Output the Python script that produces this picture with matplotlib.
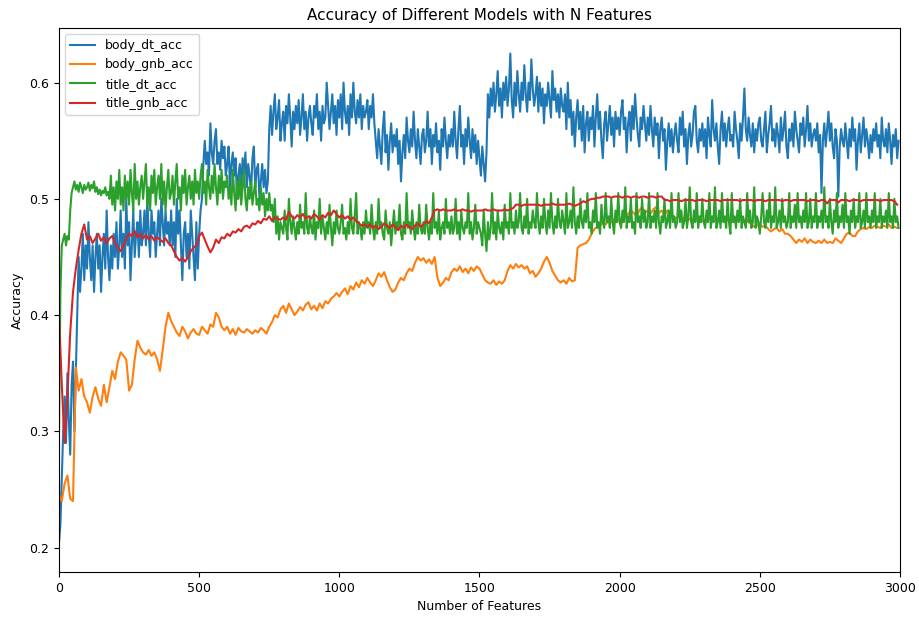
import numpy as np
import matplotlib
matplotlib.use("Agg")
import matplotlib.pyplot as plt

# decision-tree runs sampled every 5 features, naive bayes every 10
dt_features = np.arange(0, 3000, 5)
gnb_features = np.arange(0, 3000, 10)

body_dt_acc = [
    0.204, 0.22, 0.26, 0.30, 0.33, 0.29, 0.35, 0.31, 0.28, 0.34, 0.36, 0.30, 0.35, 0.40, 0.45, 0.42, 0.44, 0.47, 0.43, 0.46,
    0.44, 0.48, 0.45, 0.43, 0.46, 0.42, 0.45, 0.47, 0.44, 0.46, 0.42, 0.45, 0.47, 0.44, 0.49, 0.45, 0.43, 0.46, 0.44, 0.47,
    0.45, 0.48, 0.44, 0.46, 0.49, 0.45, 0.47, 0.44, 0.50, 0.46, 0.48, 0.43, 0.46, 0.49, 0.45, 0.47, 0.48, 0.45, 0.49, 0.46,
    0.47, 0.49, 0.46, 0.50, 0.47, 0.45, 0.49, 0.47, 0.48, 0.45, 0.47, 0.49, 0.46, 0.50, 0.48, 0.46, 0.49, 0.47, 0.48, 0.46,
    0.49, 0.46, 0.48, 0.45, 0.50, 0.47, 0.49, 0.46, 0.43, 0.47, 0.48, 0.45, 0.47, 0.44, 0.49, 0.47, 0.45, 0.43, 0.48, 0.44,
    0.47, 0.49, 0.50, 0.53, 0.55, 0.53, 0.54, 0.52, 0.565, 0.54, 0.53, 0.55, 0.56, 0.53, 0.54, 0.525, 0.55, 0.535, 0.545, 0.52,
    0.53, 0.545, 0.51, 0.53, 0.54, 0.52, 0.535, 0.50, 0.52, 0.53, 0.51, 0.535, 0.52, 0.54, 0.51, 0.53, 0.52, 0.505, 0.535, 0.545,
    0.51, 0.525, 0.53, 0.50, 0.515, 0.53, 0.51, 0.525, 0.505, 0.515, 0.56, 0.58, 0.555, 0.575, 0.59, 0.56, 0.57, 0.585, 0.55, 0.565,
    0.575, 0.55, 0.58, 0.565, 0.59, 0.57, 0.545, 0.575, 0.56, 0.58, 0.565, 0.585, 0.555, 0.57, 0.59, 0.56, 0.575, 0.55, 0.57, 0.58,
    0.565, 0.555, 0.58, 0.57, 0.59, 0.56, 0.575, 0.55, 0.58, 0.565, 0.57, 0.60, 0.58, 0.56, 0.575, 0.59, 0.565, 0.58, 0.555, 0.585,
    0.57, 0.59, 0.56, 0.60, 0.575, 0.565, 0.58, 0.555, 0.59, 0.57, 0.60, 0.575, 0.565, 0.585, 0.57, 0.59, 0.56, 0.58, 0.57, 0.575,
    0.585, 0.56, 0.58, 0.57, 0.59, 0.565, 0.55, 0.535, 0.56, 0.545, 0.53, 0.56, 0.575, 0.54, 0.555, 0.525, 0.55, 0.565, 0.54, 0.555,
    0.545, 0.56, 0.53, 0.55, 0.515, 0.54, 0.555, 0.535, 0.57, 0.55, 0.54, 0.56, 0.545, 0.575, 0.55, 0.535, 0.56, 0.545, 0.53, 0.555,
    0.56, 0.54, 0.55, 0.575, 0.545, 0.56, 0.53, 0.555, 0.545, 0.565, 0.54, 0.55, 0.525, 0.56, 0.545, 0.57, 0.55, 0.535, 0.555, 0.545,
    0.56, 0.545, 0.575, 0.55, 0.535, 0.56, 0.58, 0.545, 0.555, 0.53, 0.56, 0.545, 0.57, 0.55, 0.535, 0.56, 0.54, 0.555, 0.53, 0.55,
    0.535, 0.52, 0.545, 0.53, 0.515, 0.54, 0.59, 0.57, 0.595, 0.58, 0.60, 0.575, 0.59, 0.61, 0.58, 0.595, 0.57, 0.60, 0.585, 0.605,
    0.58, 0.595, 0.625, 0.585, 0.57, 0.60, 0.58, 0.61, 0.59, 0.575, 0.60, 0.585, 0.615, 0.59, 0.575, 0.60, 0.585, 0.62, 0.595, 0.58,
    0.59, 0.605, 0.575, 0.60, 0.58, 0.595, 0.565, 0.59, 0.58, 0.60, 0.585, 0.57, 0.61, 0.585, 0.595, 0.575, 0.59, 0.57, 0.595, 0.58,
    0.575, 0.59, 0.56, 0.60, 0.57, 0.585, 0.555, 0.575, 0.545, 0.57, 0.585, 0.56, 0.575, 0.55, 0.58, 0.54, 0.565, 0.575, 0.55, 0.57,
    0.56, 0.58, 0.545, 0.57, 0.59, 0.56, 0.575, 0.55, 0.535, 0.565, 0.575, 0.55, 0.565, 0.58, 0.555, 0.57, 0.545, 0.575, 0.56, 0.57,
    0.555, 0.575, 0.585, 0.56, 0.57, 0.54, 0.565, 0.575, 0.55, 0.58, 0.56, 0.59, 0.57, 0.555, 0.545, 0.57, 0.56, 0.58, 0.565, 0.55,
    0.57, 0.555, 0.58, 0.56, 0.545, 0.57, 0.555, 0.565, 0.535, 0.56, 0.57, 0.55, 0.56, 0.525, 0.55, 0.565, 0.545, 0.56, 0.54, 0.555,
    0.565, 0.55, 0.54, 0.57, 0.555, 0.575, 0.545, 0.56, 0.53, 0.555, 0.565, 0.545, 0.555, 0.575, 0.58, 0.55, 0.54, 0.56, 0.55, 0.565,
    0.545, 0.56, 0.535, 0.57, 0.555, 0.545, 0.585, 0.56, 0.55, 0.565, 0.545, 0.53, 0.56, 0.575, 0.55, 0.565, 0.545, 0.56, 0.57, 0.55,
    0.555, 0.545, 0.575, 0.56, 0.55, 0.535, 0.565, 0.55, 0.57, 0.595, 0.56, 0.55, 0.57, 0.555, 0.545, 0.565, 0.54, 0.56, 0.55, 0.565,
    0.57, 0.55, 0.545, 0.56, 0.575, 0.54, 0.555, 0.565, 0.58, 0.55, 0.56, 0.545, 0.565, 0.555, 0.54, 0.57, 0.55, 0.56, 0.575, 0.545,
    0.535, 0.56, 0.55, 0.565, 0.545, 0.575, 0.56, 0.55, 0.54, 0.565, 0.555, 0.57, 0.545, 0.56, 0.58, 0.55, 0.565, 0.545, 0.555, 0.56,
    0.55, 0.565, 0.54, 0.555, 0.505, 0.55, 0.565, 0.545, 0.56, 0.575, 0.55, 0.565, 0.545, 0.535, 0.56, 0.55, 0.502, 0.545, 0.56, 0.55,
    0.545, 0.565, 0.55, 0.535, 0.56, 0.545, 0.57, 0.55, 0.56, 0.525, 0.55, 0.565, 0.54, 0.555, 0.57, 0.545, 0.56, 0.55, 0.535, 0.555,
    0.54, 0.56, 0.55, 0.565, 0.545, 0.555, 0.535, 0.57, 0.55, 0.545, 0.56, 0.54, 0.565, 0.55, 0.53, 0.555, 0.545, 0.56, 0.535, 0.55,
]

title_dt_acc = [
    0.30, 0.42, 0.46, 0.465, 0.47, 0.46, 0.468, 0.465, 0.49, 0.505, 0.51, 0.515, 0.508, 0.512, 0.506, 0.514, 0.51, 0.505, 0.512, 0.508,
    0.51, 0.514, 0.507, 0.512, 0.509, 0.515, 0.506, 0.51, 0.504, 0.508, 0.503, 0.507, 0.505, 0.51, 0.503, 0.506, 0.50, 0.52, 0.495, 0.51,
    0.49, 0.515, 0.50, 0.525, 0.495, 0.51, 0.49, 0.52, 0.50, 0.515, 0.495, 0.525, 0.505, 0.49, 0.53, 0.50, 0.515, 0.495, 0.51, 0.52,
    0.50, 0.515, 0.53, 0.495, 0.51, 0.49, 0.52, 0.505, 0.525, 0.495, 0.51, 0.52, 0.50, 0.53, 0.495, 0.515, 0.49, 0.51, 0.525, 0.50,
    0.505, 0.52, 0.495, 0.515, 0.53, 0.50, 0.51, 0.49, 0.52, 0.505, 0.525, 0.495, 0.51, 0.52, 0.50, 0.515, 0.495, 0.525, 0.505, 0.515,
    0.50, 0.52, 0.53, 0.505, 0.515, 0.495, 0.525, 0.51, 0.50, 0.52, 0.505, 0.53, 0.51, 0.495, 0.52, 0.505, 0.525, 0.50, 0.515, 0.51,
    0.52, 0.50, 0.51, 0.495, 0.525, 0.505, 0.49, 0.515, 0.50, 0.52, 0.495, 0.51, 0.525, 0.50, 0.49, 0.51, 0.50, 0.515, 0.495, 0.505,
    0.515, 0.495, 0.50, 0.49, 0.51, 0.495, 0.505, 0.485, 0.50, 0.49, 0.505, 0.49, 0.495, 0.48, 0.50, 0.47, 0.485, 0.465, 0.48, 0.475,
    0.47, 0.49, 0.475, 0.465, 0.50, 0.48, 0.47, 0.485, 0.475, 0.465, 0.48, 0.47, 0.495, 0.475, 0.48, 0.47, 0.505, 0.475, 0.47, 0.485,
    0.475, 0.47, 0.49, 0.465, 0.48, 0.475, 0.50, 0.47, 0.485, 0.475, 0.465, 0.48, 0.47, 0.495, 0.475, 0.46, 0.48, 0.47, 0.49, 0.475,
    0.47, 0.48, 0.495, 0.47, 0.475, 0.465, 0.48, 0.47, 0.50, 0.475, 0.47, 0.485, 0.505, 0.47, 0.48, 0.475, 0.465, 0.48, 0.47, 0.49,
    0.475, 0.48, 0.47, 0.495, 0.475, 0.465, 0.48, 0.47, 0.50, 0.475, 0.48, 0.47, 0.465, 0.49, 0.475, 0.47, 0.48, 0.46, 0.475, 0.49,
    0.47, 0.48, 0.475, 0.495, 0.47, 0.465, 0.48, 0.47, 0.505, 0.475, 0.48, 0.47, 0.49, 0.475, 0.465, 0.48, 0.47, 0.495, 0.475, 0.47,
    0.48, 0.47, 0.495, 0.475, 0.465, 0.48, 0.47, 0.505, 0.475, 0.48, 0.47, 0.49, 0.465, 0.475, 0.48, 0.47, 0.50, 0.475, 0.48, 0.47,
    0.485, 0.47, 0.475, 0.50, 0.47, 0.48, 0.465, 0.49, 0.475, 0.47, 0.48, 0.475, 0.505, 0.47, 0.48, 0.465, 0.475, 0.495, 0.47, 0.48,
    0.475, 0.47, 0.46, 0.49, 0.47, 0.455, 0.48, 0.465, 0.475, 0.505, 0.47, 0.48, 0.465, 0.49, 0.475, 0.47, 0.48, 0.465, 0.495, 0.475,
    0.48, 0.47, 0.505, 0.475, 0.48, 0.47, 0.49, 0.475, 0.48, 0.505, 0.475, 0.47, 0.485, 0.475, 0.50, 0.47, 0.48, 0.475, 0.49, 0.48,
    0.475, 0.505, 0.48, 0.47, 0.485, 0.475, 0.50, 0.48, 0.47, 0.49, 0.475, 0.505, 0.48, 0.47, 0.485, 0.475, 0.50, 0.48, 0.475, 0.49,
    0.48, 0.47, 0.505, 0.475, 0.48, 0.49, 0.475, 0.51, 0.48, 0.47, 0.485, 0.475, 0.50, 0.48, 0.475, 0.49, 0.48, 0.505, 0.475, 0.48,
    0.47, 0.49, 0.48, 0.505, 0.475, 0.48, 0.47, 0.495, 0.48, 0.475, 0.505, 0.48, 0.485, 0.475, 0.50, 0.48, 0.47, 0.49, 0.48, 0.505,
    0.48, 0.475, 0.49, 0.48, 0.51, 0.475, 0.485, 0.48, 0.50, 0.475, 0.48, 0.47, 0.505, 0.48, 0.485, 0.475, 0.50, 0.48, 0.49, 0.475,
    0.48, 0.505, 0.475, 0.485, 0.48, 0.49, 0.475, 0.505, 0.48, 0.47, 0.485, 0.48, 0.50, 0.475, 0.48, 0.49, 0.475, 0.505, 0.48, 0.485,
    0.475, 0.48, 0.505, 0.48, 0.49, 0.475, 0.48, 0.50, 0.475, 0.485, 0.51, 0.48, 0.475, 0.49, 0.48, 0.505, 0.475, 0.485, 0.48, 0.50,
    0.48, 0.475, 0.49, 0.48, 0.505, 0.475, 0.485, 0.48, 0.51, 0.475, 0.48, 0.49, 0.475, 0.505, 0.48, 0.485, 0.475, 0.50, 0.48, 0.47,
    0.505, 0.48, 0.485, 0.475, 0.49, 0.48, 0.50, 0.475, 0.485, 0.48, 0.475, 0.505, 0.48, 0.49, 0.475, 0.48, 0.51, 0.475, 0.485, 0.48,
    0.47, 0.485, 0.505, 0.48, 0.475, 0.49, 0.48, 0.505, 0.475, 0.485, 0.48, 0.51, 0.475, 0.48, 0.49, 0.475, 0.50, 0.48, 0.485, 0.475,
    0.48, 0.505, 0.475, 0.485, 0.48, 0.495, 0.475, 0.505, 0.48, 0.485, 0.475, 0.49, 0.48, 0.505, 0.475, 0.48, 0.50, 0.475, 0.485, 0.48,
    0.505, 0.475, 0.485, 0.48, 0.49, 0.475, 0.51, 0.48, 0.485, 0.475, 0.50, 0.48, 0.47, 0.49, 0.48, 0.505, 0.475, 0.485, 0.48, 0.495,
    0.475, 0.505, 0.48, 0.485, 0.47, 0.49, 0.48, 0.50, 0.475, 0.485, 0.48, 0.505, 0.475, 0.48, 0.49, 0.475, 0.505, 0.48, 0.485, 0.475,
    0.49, 0.48, 0.505, 0.475, 0.485, 0.48, 0.50, 0.475, 0.485, 0.48, 0.49, 0.475, 0.505, 0.48, 0.485, 0.475, 0.50, 0.48, 0.485, 0.475,
]

body_gnb_acc = [
    0.245, 0.24, 0.255, 0.262, 0.242, 0.24, 0.355, 0.335, 0.345, 0.33,
    0.325, 0.316, 0.33, 0.338, 0.328, 0.322, 0.34, 0.325, 0.338, 0.352,
    0.345, 0.36, 0.368, 0.365, 0.362, 0.335, 0.34, 0.362, 0.378, 0.372,
    0.368, 0.366, 0.37, 0.365, 0.368, 0.362, 0.352, 0.37, 0.39, 0.402,
    0.395, 0.39, 0.385, 0.382, 0.39, 0.386, 0.38, 0.385, 0.388, 0.384,
    0.383, 0.39, 0.387, 0.384, 0.392, 0.39, 0.402, 0.398, 0.39, 0.387,
    0.39, 0.384, 0.388, 0.383, 0.389, 0.386, 0.385, 0.388, 0.386, 0.384,
    0.387, 0.385, 0.389, 0.387, 0.384, 0.39, 0.394, 0.40, 0.398, 0.405,
    0.408, 0.402, 0.41, 0.405, 0.40, 0.403, 0.407, 0.404, 0.409, 0.411,
    0.405, 0.408, 0.404, 0.41, 0.406, 0.412, 0.41, 0.414, 0.416, 0.419,
    0.416, 0.42, 0.423, 0.418, 0.425, 0.422, 0.428, 0.424, 0.43, 0.427,
    0.432, 0.428, 0.425, 0.43, 0.436, 0.433, 0.437, 0.43, 0.424, 0.42,
    0.422, 0.428, 0.432, 0.43, 0.436, 0.44, 0.438, 0.445, 0.45, 0.447,
    0.449, 0.445, 0.448, 0.444, 0.45, 0.432, 0.425, 0.428, 0.432, 0.43,
    0.437, 0.44, 0.438, 0.442, 0.437, 0.44, 0.436, 0.441, 0.438, 0.442,
    0.44, 0.435, 0.43, 0.428, 0.427, 0.43, 0.426, 0.429, 0.427, 0.43,
    0.438, 0.443, 0.44, 0.444, 0.441, 0.443, 0.44, 0.442, 0.436, 0.438,
    0.433, 0.436, 0.44, 0.446, 0.45, 0.445, 0.438, 0.434, 0.43, 0.428,
    0.43, 0.427, 0.432, 0.429, 0.43, 0.458, 0.46, 0.461, 0.462, 0.465,
    0.47, 0.474, 0.476, 0.477, 0.48, 0.478, 0.481, 0.48, 0.482, 0.48,
    0.483, 0.48, 0.485, 0.487, 0.49, 0.488, 0.485, 0.49, 0.493, 0.488,
    0.49, 0.487, 0.491, 0.493, 0.488, 0.49, 0.486, 0.49, 0.488, 0.485,
    0.483, 0.485, 0.482, 0.484, 0.48, 0.483, 0.481, 0.484, 0.482, 0.48,
    0.482, 0.48, 0.483, 0.481, 0.484, 0.482, 0.48, 0.483, 0.481, 0.482,
    0.48, 0.482, 0.481, 0.483, 0.48, 0.482, 0.48, 0.478, 0.476, 0.477,
    0.478, 0.476, 0.477, 0.474, 0.472, 0.474, 0.475, 0.472, 0.474, 0.47,
    0.47, 0.468, 0.465, 0.462, 0.465, 0.463, 0.466, 0.462, 0.465, 0.463,
    0.462, 0.464, 0.462, 0.465, 0.462, 0.463, 0.462, 0.466, 0.464, 0.462,
    0.466, 0.47, 0.471, 0.468, 0.468, 0.472, 0.474, 0.475, 0.474, 0.476,
    0.475, 0.477, 0.476, 0.475, 0.477, 0.476, 0.478, 0.475, 0.476, 0.475,
]

title_gnb_acc = [
    0.40, 0.34, 0.29, 0.33, 0.385, 0.42, 0.44, 0.456, 0.47, 0.478,
    0.465, 0.468, 0.462, 0.466, 0.47, 0.464, 0.467, 0.462, 0.466, 0.468,
    0.462, 0.458, 0.455, 0.46, 0.466, 0.47, 0.468, 0.472, 0.467, 0.47,
    0.466, 0.469, 0.465, 0.468, 0.464, 0.467, 0.465, 0.463, 0.466, 0.462,
    0.46, 0.455, 0.45, 0.447, 0.449, 0.446, 0.45, 0.455, 0.458, 0.46,
    0.468, 0.471, 0.465, 0.459, 0.454, 0.458, 0.465, 0.462, 0.467, 0.466,
    0.47, 0.468, 0.472, 0.471, 0.474, 0.472, 0.476, 0.477, 0.475, 0.479,
    0.478, 0.481, 0.479, 0.483, 0.482, 0.485, 0.481, 0.484, 0.483, 0.482,
    0.484, 0.482, 0.489, 0.485, 0.483, 0.486, 0.484, 0.487, 0.483, 0.485,
    0.483, 0.487, 0.485, 0.482, 0.486, 0.484, 0.488, 0.486, 0.49, 0.487,
    0.484, 0.486, 0.483, 0.485, 0.482, 0.484, 0.481, 0.479, 0.477, 0.478,
    0.476, 0.478, 0.475, 0.477, 0.474, 0.476, 0.479, 0.477, 0.475, 0.478,
    0.476, 0.473, 0.477, 0.475, 0.478, 0.476, 0.474, 0.477, 0.479, 0.476,
    0.478, 0.481, 0.479, 0.484, 0.49, 0.491, 0.49, 0.491, 0.49, 0.49,
    0.49, 0.491, 0.49, 0.49, 0.491, 0.49, 0.49, 0.489, 0.49, 0.49,
    0.49, 0.49, 0.491, 0.49, 0.49, 0.491, 0.49, 0.49, 0.49, 0.491,
    0.49, 0.491, 0.492, 0.495, 0.495, 0.494, 0.495, 0.495, 0.495, 0.495,
    0.495, 0.495, 0.494, 0.495, 0.495, 0.495, 0.496, 0.495, 0.495, 0.495,
    0.495, 0.495, 0.496, 0.495, 0.494, 0.495, 0.496, 0.498, 0.497, 0.499,
    0.50, 0.50, 0.501, 0.501, 0.502, 0.502, 0.502, 0.501, 0.502, 0.502,
    0.502, 0.501, 0.502, 0.502, 0.501, 0.502, 0.502, 0.501, 0.502, 0.502,
    0.501, 0.502, 0.502, 0.501, 0.502, 0.502, 0.499, 0.499, 0.498, 0.499,
    0.499, 0.499, 0.498, 0.499, 0.499, 0.499, 0.499, 0.498, 0.499, 0.499,
    0.499, 0.498, 0.499, 0.499, 0.499, 0.499, 0.498, 0.499, 0.499, 0.499,
    0.499, 0.499, 0.499, 0.498, 0.499, 0.499, 0.499, 0.499, 0.498, 0.499,
    0.499, 0.499, 0.498, 0.499, 0.499, 0.499, 0.499, 0.499, 0.498, 0.499,
    0.499, 0.498, 0.499, 0.499, 0.499, 0.499, 0.499, 0.498, 0.499, 0.499,
    0.499, 0.498, 0.499, 0.499, 0.496, 0.499, 0.499, 0.499, 0.497, 0.499,
    0.499, 0.499, 0.498, 0.499, 0.499, 0.499, 0.498, 0.499, 0.499, 0.499,
    0.499, 0.499, 0.499, 0.498, 0.499, 0.499, 0.499, 0.499, 0.498, 0.495,
]

fig = plt.figure(figsize=(9.19, 6.18), dpi=100)
ax = fig.add_axes([0.0642, 0.0744, 0.9151, 0.8803])

ax.plot(dt_features, body_dt_acc, color="C0", lw=1.5, label="body_dt_acc")
ax.plot(gnb_features, body_gnb_acc, color="C1", lw=1.5, label="body_gnb_acc")
ax.plot(dt_features, title_dt_acc, color="C2", lw=1.5, label="title_dt_acc")
ax.plot(gnb_features, title_gnb_acc, color="C3", lw=1.5, label="title_gnb_acc")

ax.set_title("Accuracy of Different Models with N Features", fontsize=11)
ax.set_xlabel("Number of Features", fontsize=9)
ax.set_ylabel("Accuracy", fontsize=9)
ax.set_xlim(0, 3000)
ax.set_ylim(0.179, 0.647)
ax.set_xticks([0, 500, 1000, 1500, 2000, 2500, 3000])
ax.set_yticks([0.2, 0.3, 0.4, 0.5, 0.6])
ax.tick_params(labelsize=9)
ax.legend(loc="upper left", fontsize=9)

fig.savefig("out.png", dpi=100)
